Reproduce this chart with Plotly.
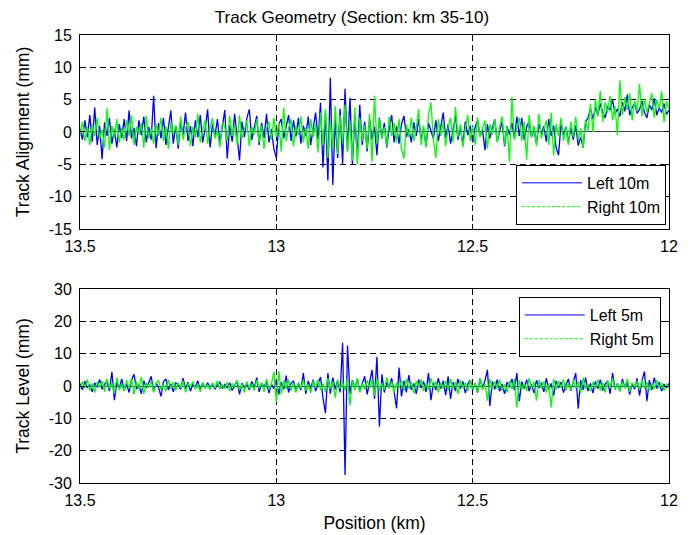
import numpy as np
import plotly.graph_objects as go

# Sampling grid: 241 samples from km 13.5 to km 12.0
position_km = np.linspace(13.5, 12.0, 241)

align_left_10m = [
    0.5, -1.2, 1.8, -0.8, 2.6, -1.5, 3.8, -2.0, 0.9, -4.2,
    1.5, -0.6, 2.2, -1.8, 0.4, -2.4, 1.2, -0.9, 2.0, -1.4,
    3.3, -1.0, 0.6, -2.2, 1.8, -0.5, 2.4, -1.6, 0.8, -1.2,
    5.6, -2.5, 1.4, -1.0, 2.2, -2.0, 0.7, 3.3, -1.8, 1.0,
    -2.6, 1.6, -0.4, 3.0, -1.4, 0.9, -2.2, 1.8, -0.8, 2.6,
    -1.6, 0.5, 3.5, -2.4, 1.2, -0.6, 2.0, -1.8, 0.8, 3.4,
    -4.1, 1.0, -1.5, 2.8, -0.6, -4.4, 1.6, -0.8, 2.2, 3.5,
    -1.2, 0.6, 2.5, -2.0, 1.4, -0.9, 2.8, -1.6, 0.4, -2.6,
    -4.0, 1.2, 2.0, -1.0, 0.6, 2.6, -1.4, 1.8, -0.7, 2.2,
    -1.8, 1.0, -0.6, 2.4, -2.0, 0.8, 3.0, -1.2, 4.5, -5.5,
    3.0, -7.5, 8.4, -8.2, 2.0, -4.0, 3.6, -5.0, 6.7, -3.0,
    5.3, -5.0, 2.4, -3.8, 4.2, -2.0, 1.6, -3.0, 2.0, -1.2,
    0.8, -3.6, 2.2, -1.0, 1.4, -2.4, 0.6, 2.6, -1.6, 0.9,
    -1.8, 1.2, 2.5, -0.8, 0.4, -1.6, 1.5, -0.6, 2.0, -1.2,
    0.6, -2.2, 1.4, 0.2, -1.0, 1.8, -1.4, 0.8, 3.0, -0.9,
    1.2, -1.8, 0.5, 2.5, -1.2, 0.7, -2.0, 1.6, -0.5, 1.0,
    -1.6, 0.8, 1.8, -0.6, 0.4, -2.8, 1.2, -1.0, 0.6, 2.0,
    -1.4, 0.3, 1.6, -2.2, 0.9, -0.4, 1.4, -1.0, 2.4, -0.6,
    2.2, -1.2, 0.8, 1.6, -0.8, 0.4, -1.8, 1.3, -0.3, 0.9,
    -1.5, 2.0, -0.6, 1.0, -2.4, -3.6, 1.4, -0.4, 0.8, -1.6,
    0.6, -1.2, 1.0, -2.1, -0.8, -2.4, 1.5, 2.2, 3.6, 2.0,
    3.8, 2.6, 4.4, 3.0, 2.2, 4.0, 3.4, 5.0, 2.8, 3.6,
    2.4, 4.6, 3.2, 5.8, 2.6, 3.8, 4.4, 2.9, 3.5, 4.8,
    3.0, 2.2, 4.2, 3.4, 5.2, 2.6, 3.8, 3.0, 4.4, 2.7,
    3.4,
]

align_right_10m = [
    -0.5, 1.6, -1.4, 0.8, -2.0, 1.2, -0.6, 2.2, -1.0, 0.4,
    -2.4, 3.7, -2.8, 1.0, -0.8, 2.0, -1.6, 0.6, -1.2, 1.8,
    -0.6, 2.6, -2.0, 0.8, -0.4, 1.4, -2.4, 2.5, -1.0, 0.5,
    -1.8, 1.2, -0.6, 2.2, -1.4, 0.9, -2.6, 1.6, -0.3, 1.0,
    -2.0, 2.4, -1.2, 0.6, 1.6, -2.2, 0.8, -0.8, 2.8, -1.6,
    0.4, 1.8, -1.8, 0.6, 2.2, -1.0, 0.2, -2.4, 1.4, 0.8,
    -1.4, 2.5, -0.6, 1.2, -2.0, 2.6, -1.0, 0.4, 1.8, -2.2,
    0.8, -0.4, 2.0, -1.6, 1.0, -2.6, 0.6, 1.6, -1.2, 2.2,
    -0.8, 1.4, -3.0, 3.8, -1.4, 0.6, 2.0, -2.2, 0.9, -0.5,
    2.4, -1.6, 0.7, -2.6, 2.0, -0.8, 1.2, -3.2, 3.0, -2.0,
    3.6, -4.0, 1.8, -2.6, 4.0, -3.4, 2.6, -1.8, 4.2, -3.0,
    1.6, -4.4, 3.8, -5.0, 2.2, -1.4, 1.0, -2.6, 2.8, -4.6,
    5.6, -1.8, 2.0, -1.0, 0.8, -2.2, 2.4, -0.6, 1.4, -1.6,
    2.0, -2.6, -4.1, 1.2, -0.8, 2.2, -1.4, 0.6, 3.5, -2.0,
    1.0, -2.4, 2.6, 4.6, -1.2, -4.0, 2.0, -0.6, 1.4, -2.2,
    0.8, 2.2, -1.6, 3.9, -0.8, 1.2, -2.4, 0.6, 2.6, -1.4,
    1.0, -2.0, 2.2, -0.8, 0.4, 1.8, -2.6, 1.2, -0.4, 2.0,
    -1.6, 0.8, 2.4, -2.0, 1.0, -4.6, 5.4, -1.2, 0.6, 2.2,
    -1.4, 1.6, -4.3, 2.6, -0.8, 1.0, -2.2, 2.8, -1.0, 0.4,
    1.8, -2.0, 3.0, -3.6, 1.2, -0.6, 2.2, -1.4, 0.8, -2.0,
    1.6, -0.8, 2.4, -1.2, 0.6, -2.5, 1.8, 0.2, 4.4, 0.0,
    5.0, 2.4, 6.3, 1.6, 4.6, 3.0, 5.6, 1.8, 4.0, -0.5,
    8.0, 2.6, 5.4, 3.4, 6.0, 1.8, 4.8, 3.2, 7.4, 2.4,
    5.2, 3.0, 4.4, 6.0, 2.2, 5.0, 3.6, 6.3, 1.5, 4.8,
    3.6,
]

level_left_5m = [
    0.8, -1.2, 1.5, -0.6, 0.4, -1.8, 1.0, -0.4, 2.0, -1.0,
    0.6, 1.4, -1.6, 4.4, -4.4, 1.2, -0.8, 2.2, -1.4, 0.6,
    -2.0, 1.8, 3.6, -1.0, 0.4, -2.4, 1.6, -0.6, 1.0, 3.0,
    -1.6, 0.8, -0.4, -3.2, 1.4, 2.2, -1.2, 0.6, -1.8, 1.0,
    0.4, -1.0, 2.4, -0.8, 1.2, -1.6, 0.6, -0.4, 1.6, -1.2,
    0.8, -0.6, 1.0, -0.4, 0.6, -1.0, 0.4, 1.2, -0.8, 0.5,
    -0.6, 1.0, -1.4, 0.3, 1.6, -2.6, 0.8, -0.4, 0.6, -1.2,
    1.4, -0.6, 2.6, -1.8, 0.8, -0.2, 1.2, -2.2, 0.6, -0.8,
    2.0, -2.6, 1.2, -1.0, 3.2, -2.0, 0.8, 1.6, -1.4, 0.6,
    -1.2, 4.0, -2.4, 1.6, -0.8, 2.0, -1.6, 0.6, 2.8, -3.6,
    -8.4, 4.0, -2.4, 2.6, -1.0, 1.8, -2.0, 13.4, -27.5, 12.5,
    -2.4, 1.8, -1.0, 2.2, -1.6, 0.8, 3.0, -2.6, 1.4, 5.0,
    -4.0, 9.0, -12.5, 3.6, -2.0, 1.2, -0.6, 2.4, -1.8, -6.9,
    5.7, -3.2, 1.6, -2.0, 3.4, -1.2, 0.8, -2.4, 2.0, -0.6,
    1.4, -1.8, 4.0, -4.4, 1.0, -1.2, 2.4, -0.8, 1.6, -2.8,
    3.0, -4.0, 1.2, -1.6, 2.2, -0.8, 1.4, -2.2, 0.6, 1.8,
    -1.2, 0.8, -2.0, 2.4, -0.6, 1.6, 5.0, -6.2, 1.4, -1.0,
    2.0, -1.6, 0.6, -2.4, 1.2, -0.4, 2.2, -1.2, 4.0, -4.7,
    1.4, -0.8, 2.0, -1.6, 0.6, -2.2, 1.8, -0.6, 1.0, -1.8,
    2.4, -1.0, 0.8, -3.0, 1.6, -0.6, 1.2, -2.0, 0.4, 2.2,
    -1.4, 1.0, 4.0, -7.0, 1.8, -1.2, 2.6, -1.6, 0.8, -2.2,
    1.4, -0.8, 2.0, -1.4, 0.6, 1.6, -2.4, 4.0, -1.0, 0.8,
    -1.6, 2.2, -0.6, 1.2, -2.6, 0.8, -1.0, 2.4, -3.0, 1.6,
    4.5, -4.7, 1.8, -1.2, 2.6, -0.8, 1.2, -1.6, 0.6, -0.4,
    0.8,
]

level_right_5m = [
    -1.0, 1.4, -0.6, 2.0, -1.4, 0.8, -2.0, 1.2, -0.4, 1.6,
    -1.8, 2.2, -0.8, 1.0, -2.4, 2.6, -1.2, 0.6, -1.6, 1.8,
    -0.8, 2.4, -2.6, 1.4, -1.0, 2.8, -2.4, 1.0, -0.6, 1.6,
    -2.0, 0.8, 1.8, -1.2, 0.4, -1.6, 2.0, -0.8, 1.2, -1.4,
    1.0, -0.6, 1.6, -2.0, 0.8, -0.4, 1.4, -1.0, 0.6, -1.8,
    1.2, -0.8, 0.4, -1.2, 1.0, -0.6, 1.6, -1.0, 0.4, -0.8,
    1.2, -1.6, 0.8, -0.4, 1.8, -1.2, 0.6, -2.0, 1.4, -0.8,
    0.6, -1.4, 1.8, -0.6, 1.0, -1.8, 2.2, -1.0, 0.6, 4.4,
    -5.0, 4.6, -2.6, 1.6, -1.0, 2.0, -1.4, 0.8, -2.0, 1.2,
    -0.8, 1.8, -1.4, 0.6, -2.2, 1.6, -0.6, 2.0, -1.2, 0.8,
    -1.8, 2.4, -1.0, 1.4, -3.6, 2.0, -0.8, 1.2, -1.4, 2.2,
    -6.0, 1.6, -1.2, 2.4, -2.0, 0.8, -1.0, 1.8, -0.6, 2.0,
    -3.0, 2.2, -1.6, 0.8, -1.2, 2.6, -0.8, 1.4, -2.0, 1.0,
    -0.6, 1.8, -1.4, 2.2, -0.8, 1.2, -2.2, 1.6, -0.4, 2.0,
    -1.6, 0.8, -1.2, 2.4, -0.6, 1.4, -2.0, 1.0, -0.8, 1.6,
    -1.4, 2.2, -0.8, 1.2, -2.4, 1.8, -0.6, 1.0, -1.6, 2.0,
    -1.0, 0.6, -1.8, 2.4, -1.2, 0.8, -4.5, 2.2, -1.0, 1.4,
    -0.8, 2.0, -1.4, 0.6, -2.0, 1.6, -1.0, 2.2, -6.6, 1.8,
    -1.2, 0.8, -1.6, 2.4, -0.6, 1.2, -4.5, 2.0, -0.8, 1.4,
    -2.0, 0.8, -6.6, 2.2, -1.0, 1.6, -0.6, 2.0, -1.4, 0.8,
    -1.2, 1.8, -0.6, 1.4, -2.2, 2.6, -1.0, 0.6, -1.6, 1.2,
    -0.8, 2.0, -1.4, 1.0, -2.0, 1.6, -0.6, 2.4, -1.2, 0.8,
    -1.6, 1.4, -0.8, 2.2, -1.8, 1.0, -0.4, 1.6, -1.2, 2.0,
    -0.8, 1.2, -1.6, 0.8, -1.0, 1.8, -0.6, 1.0, -1.4, 0.6,
    -0.4,
]

x_ticks = [13.5, 13, 12.5, 12]
x_tick_labels = ["13.5", "13", "12.5", "12"]
align_ticks = [15, 10, 5, 0, -5, -10, -15]
level_ticks = [30, 20, 10, 0, -10, -20, -30]

BLUE = "#0000FF"
GREEN = "#00FF00"
NARROW = "Liberation Sans Narrow, Liberation Sans, Arial, sans-serif"
REGULAR = "Liberation Sans, Arial, sans-serif"
LW = 1.3

fig = go.Figure()

fig.add_trace(go.Scatter(x=position_km, y=align_left_10m, mode="lines",
                         line=dict(color=BLUE, width=LW), showlegend=False,
                         xaxis="x", yaxis="y"))
fig.add_trace(go.Scatter(x=position_km, y=align_right_10m, mode="lines",
                         line=dict(color=GREEN, width=LW), showlegend=False,
                         xaxis="x", yaxis="y"))
fig.add_trace(go.Scatter(x=position_km, y=level_left_5m, mode="lines",
                         line=dict(color=BLUE, width=LW), showlegend=False,
                         xaxis="x2", yaxis="y2"))
fig.add_trace(go.Scatter(x=position_km, y=level_right_5m, mode="lines",
                         line=dict(color=GREEN, width=LW), showlegend=False,
                         xaxis="x2", yaxis="y2"))

fig.add_trace(go.Scatter(x=[None], y=[None], mode="lines", name="Left 10m",
                         line=dict(color=BLUE, width=1), legend="legend",
                         xaxis="x", yaxis="y"))
fig.add_trace(go.Scatter(x=[None], y=[None], mode="lines", name="Right 10m",
                         line=dict(color=GREEN, width=1, dash="3px,2px"), legend="legend",
                         xaxis="x", yaxis="y"))
fig.add_trace(go.Scatter(x=[None], y=[None], mode="lines", name="Left 5m",
                         line=dict(color=BLUE, width=1), legend="legend2",
                         xaxis="x2", yaxis="y2"))
fig.add_trace(go.Scatter(x=[None], y=[None], mode="lines", name="Right 5m",
                         line=dict(color=GREEN, width=1, dash="3px,2px"), legend="legend2",
                         xaxis="x2", yaxis="y2"))

axis_common = dict(
    showline=True, linecolor="black", linewidth=1, mirror="ticks",
    ticks="inside", ticklen=5, tickcolor="black", automargin=False,
    showgrid=True, gridcolor="black", gridwidth=1, griddash="6px,4px",
    tickfont=dict(family=NARROW, size=16, color="black"),
)

fig.update_layout(
    width=688, height=527,
    margin=dict(l=72, r=27, t=27, b=52),
    paper_bgcolor="white", plot_bgcolor="white",
    font=dict(family=NARROW, size=16, color="black"),
    title=dict(text="Track Geometry (Section: km 35-10)", x=0.5, xanchor="center",
               y=0.983, yanchor="middle", font=dict(family=NARROW, size=17, color="black")),
    xaxis=dict(domain=[0, 1], anchor="y", range=[13.5, 12], tickvals=x_ticks,
               ticktext=x_tick_labels, zeroline=False, ticklabelstandoff=3,
               **axis_common),
    yaxis=dict(domain=[0.567, 1], anchor="x", range=[-15, 15], tickvals=align_ticks,
               ticktext=[str(v) for v in align_ticks], ticklabelstandoff=4,
               zeroline=True, zerolinecolor="#444444", zerolinewidth=1,
               title=dict(text="Track Alignment (mm)", standoff=14,
                          font=dict(family=NARROW, size=17.5, color="black")),
               **axis_common),
    xaxis2=dict(domain=[0, 1], anchor="y2", range=[13.5, 12], tickvals=x_ticks,
                ticktext=x_tick_labels, zeroline=False, ticklabelstandoff=3,
                title=dict(text="Position (km)", standoff=8,
                           font=dict(family=NARROW, size=17.5, color="black")),
                **axis_common),
    yaxis2=dict(domain=[0, 0.433], anchor="x2", range=[-30, 30], tickvals=level_ticks,
                ticktext=[str(v) for v in level_ticks], ticklabelstandoff=4,
                zeroline=True, zerolinecolor="#444444", zerolinewidth=1,
                title=dict(text="Track Level (mm)", standoff=14,
                           font=dict(family=NARROW, size=17.5, color="black")),
                **axis_common),
    legend=dict(x=0.995, y=0.576, xanchor="right", yanchor="bottom",
                bgcolor="white", bordercolor="black", borderwidth=1, itemwidth=60,
                font=dict(family=REGULAR, size=16, color="black"), tracegroupgap=0),
    legend2=dict(x=0.986, y=0.415, xanchor="right", yanchor="top",
                 bgcolor="white", bordercolor="black", borderwidth=1, itemwidth=60,
                 font=dict(family=REGULAR, size=16, color="black"), tracegroupgap=0),
)

fig.write_html("out.html")
